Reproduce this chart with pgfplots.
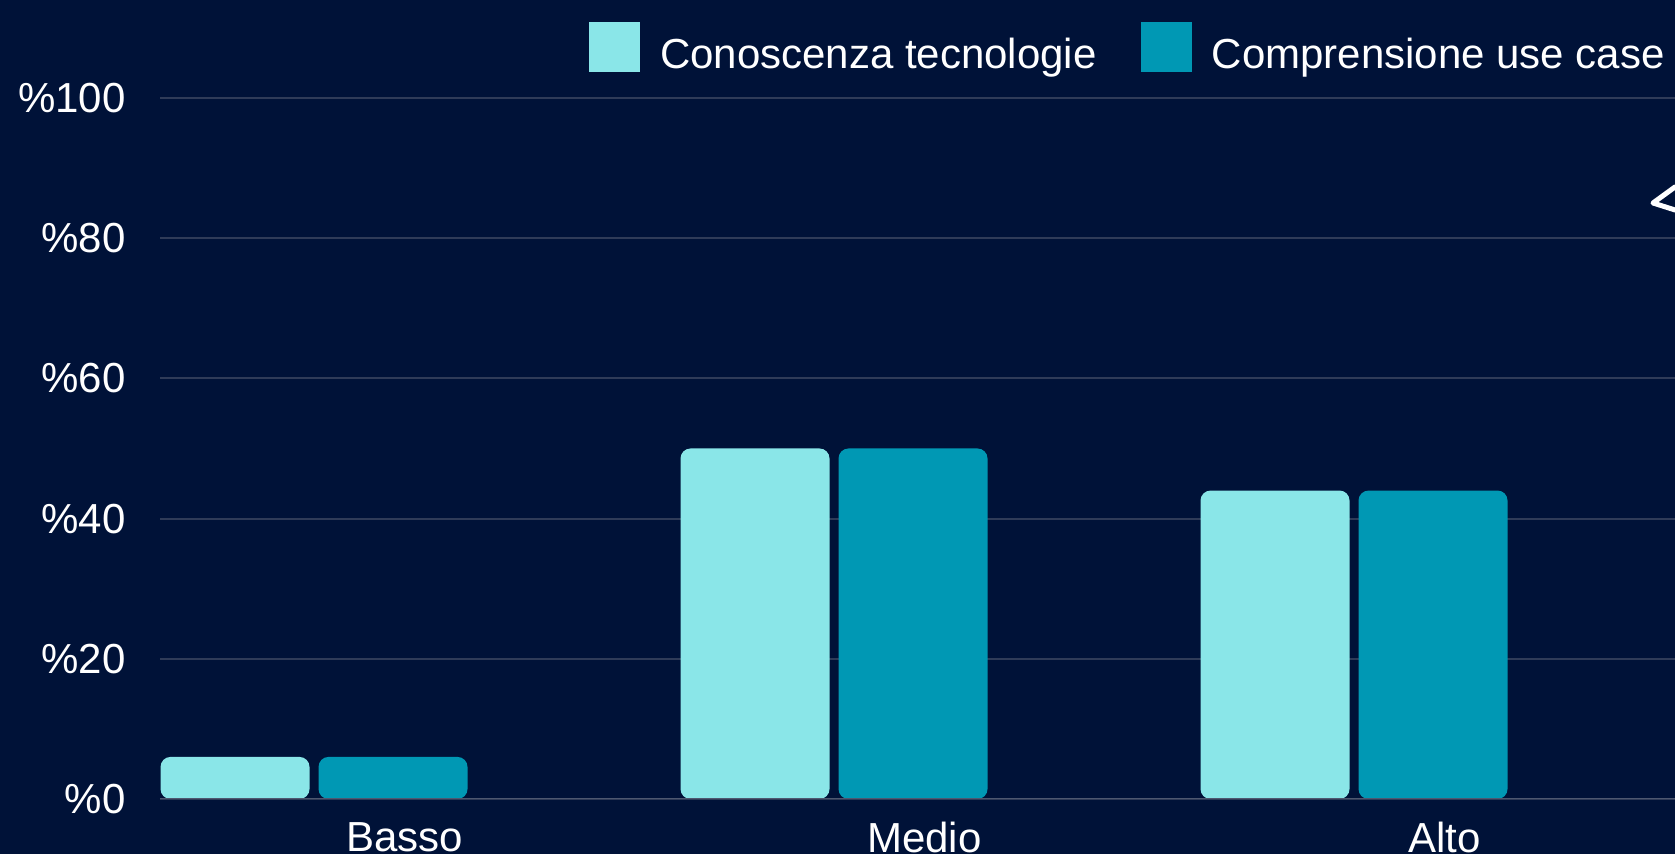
\documentclass[border=0pt]{standalone}
\usepackage{fontspec}
\setmainfont{Liberation Sans}
\usepackage{pgfplots}
\pgfplotsset{compat=1.18}
\definecolor{bgcol}{HTML}{001238}
\definecolor{lightbar}{HTML}{8AE6E8}
\definecolor{tealbar}{HTML}{0098B4}
\definecolor{gridcol}{HTML}{2F3B58}
\definecolor{basecol}{HTML}{4E5870}
\begin{document}
\begin{tikzpicture}
\fill[bgcol] (0,0) rectangle (837.5pt,427pt);
\useasboundingbox (0,0) rectangle (837.5pt,427pt);
\begin{axis}[
  at={(80pt,27.5pt)}, anchor=south west,
  scale only axis, width=757.5pt, height=350.5pt,
  xmin=-0.2962, xmax=2.6173, ymin=0, ymax=100,
  axis line style={draw=none},
  ytick={0,20,40,60,80,100},
  yticklabels={\%0,\%20,\%40,\%60,\%80,\%100},
  xtick={0.174,1.174,2.174},
  xticklabels={Basso,Medio,Alto},
  major tick length=0pt,
  tick style={draw=none},
  ymajorgrids, major grid style={gridcol, line width=1pt},
  ticklabel style={font=\fontsize{21}{25}\selectfont, text=white, inner sep=0pt},
  yticklabel style={xshift=-17pt},
  xticklabel style={yshift=-11.5pt},
  ybar, bar width=74.5pt,
  legend columns=2,
  legend style={at={(0.2832,1.1084)}, anchor=north west, draw=none, fill=none,
    inner sep=0pt, outer sep=0pt, text=white,
    font=\fontsize{21}{25}\selectfont,
    nodes={inner sep=0pt},
    /tikz/every odd column/.append style={column sep=10pt},
    /tikz/every even column/.append style={column sep=22pt}},
  legend cell align=left,
  legend image code/.code={\fill[#1, sharp corners] (0pt,-8.5pt) rectangle (25.5pt,16.5pt);},
]
\addplot[fill=lightbar, draw=none, rounded corners=5pt, bar shift=-39.5pt] coordinates {(0,6) (1,50) (2,44)};
\addlegendentry{Conoscenza tecnologie}
\addplot[fill=tealbar, draw=none, rounded corners=5pt, bar shift=39.5pt] coordinates {(0,6) (1,50) (2,44)};
\addlegendentry{Comprensione use case}
\draw[basecol, line width=1pt] (rel axis cs:0,0) -- (rel axis cs:1,0);
\end{axis}
\draw[white, line width=2.5pt, line join=round, line cap=round] (837.5pt,333.5pt) -- (826.5pt,325.5pt) -- (837.5pt,322pt);
\end{tikzpicture}
\end{document}
